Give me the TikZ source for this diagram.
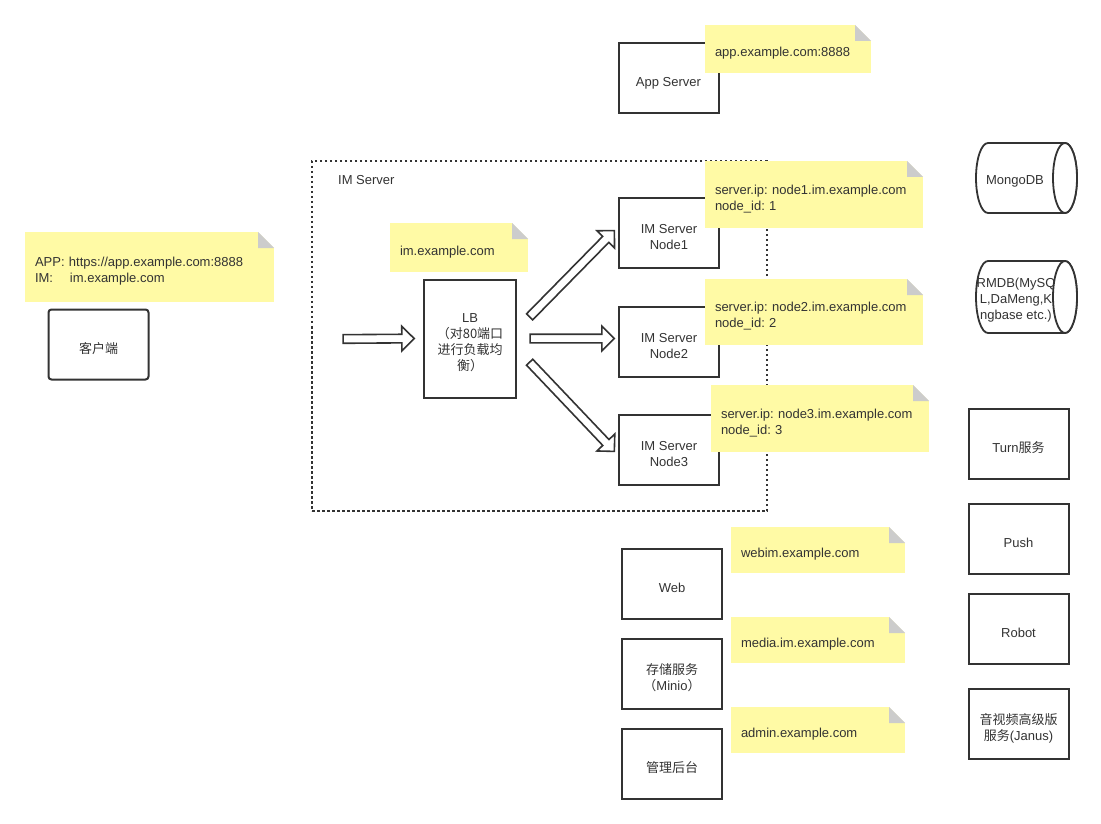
\documentclass[tikz,border=0pt]{standalone}
\usepackage{fontspec}
\setmainfont{Liberation Sans}
\newfontfamily\cjk{Noto Sans CJK SC}
\usetikzlibrary{calc,shapes.arrows}
\definecolor{ink}{RGB}{51,51,51}
\definecolor{notefill}{RGB}{255,250,165}
\definecolor{foldgray}{RGB}{204,204,204}
\frenchspacing
\tikzset{
  base/.style={font=\fontsize{13pt}{16pt}\selectfont\frenchspacing, text=ink},
  intext/.style={base, align=center, inner sep=0pt, yshift=-4.5pt},
  notetext/.style={base, align=left, inner sep=0pt, yshift=-4.5pt},
  box/.style={draw=ink, line width=2pt, fill=white, minimum width=100pt,
    minimum height=70pt, inner sep=0pt},
  note/.style={fill=notefill, inner sep=0pt,
    path picture={
      \fill[white] ([xshift=-16pt]path picture bounding box.north east)
        -- ([xshift=1pt,yshift=1pt]path picture bounding box.north east)
        -- ([yshift=-16pt]path picture bounding box.north east) -- cycle;
      \fill[foldgray] ([xshift=-16pt]path picture bounding box.north east)
        -- ([xshift=-16pt,yshift=-16pt]path picture bounding box.north east)
        -- ([yshift=-16pt]path picture bounding box.north east) -- cycle;
    }},
  harrow/.style={single arrow, draw=ink, fill=white, line width=1.6pt,
    inner sep=3.5pt, single arrow head extend=8pt, single arrow tip angle=90,
    anchor=center},
  cyl/.style={draw=ink, line width=1.8pt, fill=white},
}
\newcommand\hollowarrow[2]{%
  \path let \p1=(#1), \p2=(#2), \p3=($(\p2)-(\p1)$) in
    node[harrow, minimum height={veclen(\x3,\y3)}, rotate={atan2(\y3,\x3)}]
      at ($(\p1)!0.5!(\p2)$) {};}
\begin{document}
\begin{tikzpicture}[x=1pt,y=-1pt]
\fill[white] (0,0) rectangle (1101,824);
\useasboundingbox (0,0) rectangle (1101,824);

% IM Server group
\node[draw=ink, line width=1.7pt, dash pattern=on 2.5pt off 2.5pt,
  minimum width=455pt, minimum height=350pt, inner sep=0] (imserver) at (539.5,336) {};
\node[base, anchor=west, inner sep=0] (imlabel) at (338,180) {IM Server};

% client
\node[box, rounded corners=3pt, label={[intext]center:{\cjk 客户端}}] (client) at (98.5,344.5) {};
\node[note, minimum width=249pt, minimum height=70pt,
  label={[notetext, text width=229pt]center:APP: https://app.example.com:8888\\IM:\hspace{1.3em}im.example.com}]
  (clientnote) at (149.5,267) {};

% app server
\node[box, label={[intext]center:App Server}] (app) at (668.5,78.5) {};
\node[note, minimum width=166pt, minimum height=48pt,
  label={[notetext, text width=146pt]center:app.example.com:8888}] (appnote) at (788,49) {};

% LB
\node[box, minimum width=92pt, minimum height=118pt,
  label={[intext]center:LB\\{\cjk （对80端口}\\{\cjk 进行负载均}\\{\cjk 衡）}}] (lb) at (470,338.5) {};
\node[note, minimum width=138pt, minimum height=49pt,
  label={[notetext, text width=118pt]center:im.example.com}] (imnote) at (459,247.5) {};

% IM nodes
\node[box, label={[intext]center:IM Server\\Node1}] (n1) at (669,233) {};
\node[box, label={[intext]center:IM Server\\Node2}] (n2) at (669,342) {};
\node[box, label={[intext]center:IM Server\\Node3}] (n3) at (669,450) {};
\node[note, minimum width=218pt, minimum height=67pt,
  label={[notetext, text width=198pt]center:server.ip: node1.im.example.com\\node\_id: 1}] (n1note) at (814,194.5) {};
\node[note, minimum width=218pt, minimum height=66pt,
  label={[notetext, text width=198pt]center:server.ip: node2.im.example.com\\node\_id: 2}] (n2note) at (814,312) {};
\node[note, minimum width=218pt, minimum height=67pt,
  label={[notetext, text width=198pt]center:server.ip: node3.im.example.com\\node\_id: 3}] (n3note) at (820,418.5) {};

% hollow arrows
\coordinate (entry) at (341,339);
\hollowarrow{entry}{$(lb.west)+(-11,0)$}
\hollowarrow{$(lb.east)+(11,0)$}{$(lb.east -| n2.west)+(-6,0)$}
\hollowarrow{$(lb.east)+(11,-20)$}{$(n1.west)+(-5,-1)$}
\hollowarrow{$(lb.east)+(11,22)$}{$(n3.west)+(-5,0)$}

% databases
\draw[cyl] (988,143) -- (1065,143) arc[start angle=90, end angle=-90, x radius=12pt, y radius=35pt]
  -- (988,213) arc[start angle=270, end angle=90, x radius=12pt, y radius=35pt] -- cycle;
\draw[cyl] (1065,178) ellipse[x radius=12pt, y radius=35pt];
\node[base, inner sep=0] (mongo) at (1015,181) {MongoDB};

\draw[cyl] (988,261) -- (1065,261) arc[start angle=90, end angle=-90, x radius=12pt, y radius=36pt]
  -- (988,333) arc[start angle=270, end angle=90, x radius=12pt, y radius=36pt] -- cycle;
\node[base, align=center, inner sep=0] (rmdb) at (1016,300) {RMDB(MySQ\\L,DaMeng,K\\ngbase etc.)};
\draw[cyl] (1065,297) ellipse[x radius=12pt, y radius=36pt];

% right services
\node[box, label={[intext]center:Turn{\cjk 服务}}] (turn) at (1018.5,443.5) {};
\node[box, label={[intext]center:Push}] (push) at (1018.5,538.5) {};
\node[box, label={[intext]center:Robot}] (robot) at (1018.5,628.5) {};
\node[box, label={[intext]center:{\cjk 音视频高级版}\\{\cjk 服务}(Janus)}] (av) at (1018.5,723.5) {};

% bottom services
\node[box, label={[intext]center:Web}] (web) at (672,583.5) {};
\node[box, label={[intext]center:{\cjk 存储服务}\\{\cjk （}Minio{\cjk ）}}] (minio) at (672,673.5) {};
\node[box, label={[intext]center:{\cjk 管理后台}}] (admin) at (672,763.5) {};
\node[note, minimum width=174pt, minimum height=46pt,
  label={[notetext, text width=154pt]center:webim.example.com}] (webnote) at (818,550) {};
\node[note, minimum width=174pt, minimum height=46pt,
  label={[notetext, text width=154pt]center:media.im.example.com}] (minionote) at (818,640) {};
\node[note, minimum width=174pt, minimum height=46pt,
  label={[notetext, text width=154pt]center:admin.example.com}] (adminnote) at (818,730) {};
\end{tikzpicture}
\end{document}
